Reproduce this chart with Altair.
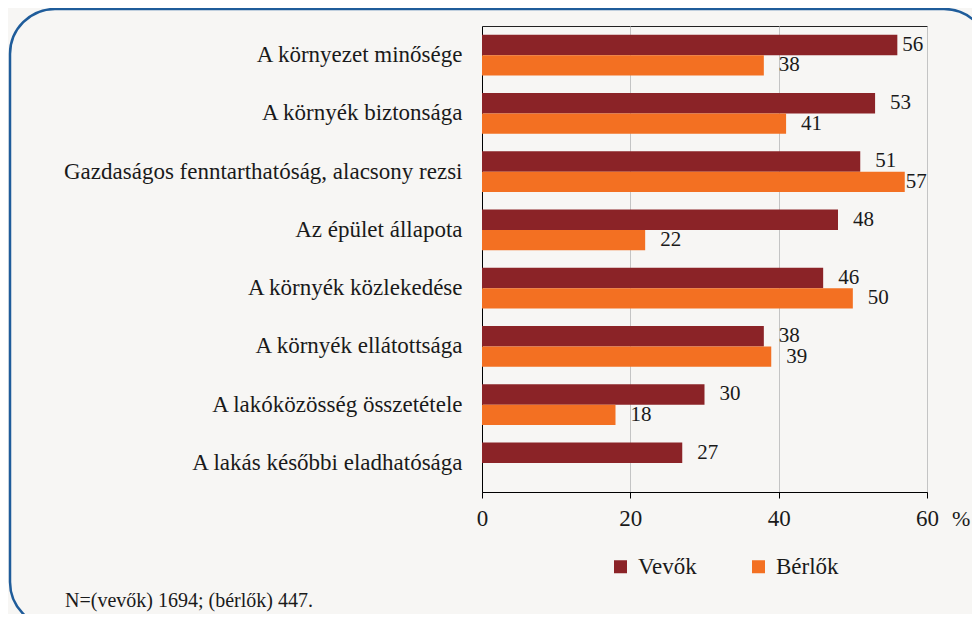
import altair as alt
import pandas as pd

categories = [
    "A környezet minősége",
    "A környék biztonsága",
    "Gazdaságos fenntarthatóság, alacsony rezsi",
    "Az épület állapota",
    "A környék közlekedése",
    "A környék ellátottsága",
    "A lakóközösség összetétele",
    "A lakás későbbi eladhatósága",
]
series = ["Vevők", "Bérlők"]
vevok = [56, 53, 51, 48, 46, 38, 30, 27]
berlok = [38, 41, 57, 22, 50, 39, 18, None]
colors = ["#8B2327", "#F37022"]
x_ticks = [0, 20, 40, 60]
unit_label = "%"
footnote = "N=(vevők) 1694; (bérlők) 447."

rows = []
for c, v in zip(categories, vevok):
    rows.append({"cat": c, "series": series[0], "value": v})
for c, b in zip(categories, berlok):
    if b is not None:
        rows.append({"cat": c, "series": series[1], "value": b})
df = pd.DataFrame(rows)

FONT = "Liberation Serif"
TXT = "#1a1a1a"

base = alt.Chart(df).encode(
    y=alt.Y(
        "cat:N",
        sort=categories,
        scale=alt.Scale(paddingInner=0.3, paddingOuter=0.15),
        axis=alt.Axis(
            title=None, ticks=False, labelFontSize=23, labelFont=FONT,
            labelColor=TXT, labelPadding=20, labelLimit=600,
            domainColor="#000", grid=False,
        ),
    ),
    yOffset=alt.YOffset(
        "series:N", sort=series,
        scale=alt.Scale(domain=series, paddingInner=0, paddingOuter=0),
    ),
    x=alt.X(
        "value:Q",
        scale=alt.Scale(domain=[0, 60], nice=False),
        axis=alt.Axis(
            values=x_ticks, title=None, format="d", labelFontSize=23,
            labelFont=FONT, labelColor=TXT, labelPadding=9, tickSize=6,
            tickColor="#000", domainColor="#000", grid=True,
            gridColor="#c4c4c4", labelFlush=False,
        ),
    ),
)

bars = base.mark_bar().encode(
    color=alt.Color(
        "series:N", sort=series,
        scale=alt.Scale(domain=series, range=colors),
        legend=alt.Legend(
            orient="none", legendX=127, legendY=529, direction="horizontal",
            title=None, symbolType="square", symbolSize=169,
            labelFontSize=23, labelFont=FONT, labelColor=TXT,
            columnPadding=50, labelOffset=6, symbolStrokeWidth=0,
        ),
    )
)

lab_kw = dict(align="left", baseline="middle", fontSize=21, font=FONT, color=TXT)
txt_main = base.mark_text(dx=15, **lab_kw).encode(
    text=alt.Text("value:Q", format="d")
).transform_filter("datum.value < 55")
txt_56 = base.mark_text(dx=5, **lab_kw).encode(
    text=alt.Text("value:Q", format="d")
).transform_filter("datum.value >= 55 && datum.value < 57")
txt_57 = base.mark_text(dx=1, **lab_kw).encode(
    text=alt.Text("value:Q", format="d")
).transform_filter("datum.value >= 57")

pct = alt.Chart(pd.DataFrame({"t": [unit_label]})).mark_text(
    align="left", baseline="middle", fontSize=22, font=FONT, color=TXT
).encode(x=alt.value(470), y=alt.value(493), text="t:N")

foot = alt.Chart(pd.DataFrame({"t": [footnote]})).mark_text(
    align="left", baseline="middle", fontSize=20, font=FONT, color=TXT
).encode(x=alt.value(-417), y=alt.value(575), text="t:N")

border = alt.Chart(pd.DataFrame({"a": [0]})).mark_rect(
    cornerRadius=45, fill="transparent", stroke="#1F5C9A", strokeWidth=2.5
).encode(
    x=alt.value(-472), x2=alt.value(507), y=alt.value(-17), y2=alt.value(601)
)

chart = alt.layer(border, bars, txt_main, txt_56, txt_57, pct, foot).properties(
    width=445,
    height=466,
    autosize=alt.AutoSizeParams(type="none"),
    padding={"left": 474, "top": 18, "right": 45, "bottom": 122},
    background="#f7f6f4",
).configure(font=FONT).configure_axis(
    labelFont=FONT
).configure_legend(labelFont=FONT).configure_view(stroke="#222", strokeWidth=1)

chart.save("out.html", embed_options={"renderer": "svg", "actions": False})
